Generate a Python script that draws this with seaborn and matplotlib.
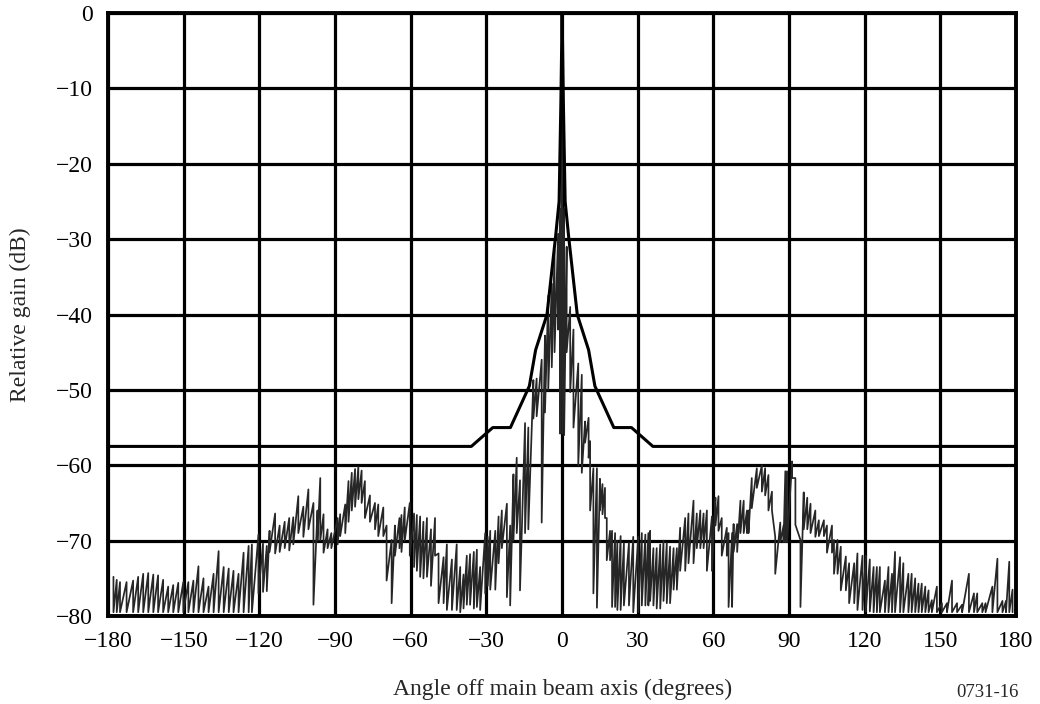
import numpy as np
import pandas as pd
import matplotlib
matplotlib.use("Agg")
import matplotlib.pyplot as plt
import seaborn as sns

# Reference envelope (dB relative to main-beam gain)
env_angle = [-180, -36, -27.5, -20.5, -13, -10.5, -6, -2.6, -1.2, -0.5, 0,
             0.5, 1.2, 2.6, 6, 10.5, 13, 20.5, 27.5, 36, 180]
env_gain = [-57.5, -57.5, -55, -55, -49.5, -44.7, -40, -29.7, -25, -12, 0,
            -12, -25, -29.7, -40, -44.7, -49.5, -55, -55, -57.5, -57.5]

# Measured pattern: for each sampled angle, the upper and lower level of the trace
meas_angle = [
    -177.9, -176.6, -175.3, -172.7, -170.1, -168.1, -166.1, -164.1, -162.1, -160.2,
    -158.2, -156.2, -154.2, -152.2, -150.2, -148.2, -146.2, -144.2, -142.2, -140.2,
    -138.2, -136.2, -134.2, -132.2, -130.3, -128.3, -126.3, -124.3, -123.0,
    -120.4, -118.6, -117.1, -116.0, -113.8, -112.0, -110.0, -108.2, -106.6, -104.6,
    -102.6, -100.6, -98.6, -97.0, -95.9, -94.6, -93.0, -91.5, -89.0, -88.0,
    -86.0, -84.7, -83.4, -82.1, -80.8, -79.5, -78.2, -76.2, -74.2, -72.9,
    -70.9, -69.6, -67.6, -66.3, -64.5, -63.7, -62.4, -60.4,
    -58.7, -57.6, -56.3, -55.0, -53.6, -52.0, -50.4, -49.0, -47.0, -45.7,
    -43.7, -41.8, -40.4, -39.1, -37.8, -36.5, -35.0, -33.8, -32.5, -30.5,
    -29.5, -28.5, -26.5, -25.2, -23.9, -21.9, -20.6, -19.3, -18.0, -16.7,
    -14.7, -13.4, -11.4, -10.1, -8.1, -6.8, -5.5, -4.1, -3.0, -1.6,
    -0.8, 0.0, 0.8, 1.8, 3.2, 4.5, 6.4, 7.8, 9.1, 10.5,
    11.1, 12.4, 13.8, 15.0, 16.0, 17.0, 17.7, 19.0, 19.8, 21.0,
    21.9, 23.2, 24.5, 26.5, 28.2, 30.2, 31.6, 33.0, 34.2, 34.9,
    36.2, 37.5, 38.9, 40.2, 41.5, 42.8, 44.2, 45.5, 46.8, 48.8,
    50.1, 52.1, 53.4, 54.8, 56.1, 57.4, 59.4, 60.8, 62.0, 63.3,
    65.3, 66.0, 67.4, 68.0, 69.4, 70.7, 72.0, 73.3, 73.9, 75.2,
    77.2, 79.2, 80.5, 81.8, 83.2, 84.5, 86.5, 87.8, 88.5, 89.2,
    91.2, 92.5, 94.5, 95.8, 97.2, 98.5, 100.4, 101.8, 103.8, 105.0,
    107.0, 107.8, 109.2, 110.5, 112.5, 113.8, 115.8, 117.1, 119.1, 120.4,
    122.0, 123.5, 124.8, 126.0, 128.0, 129.4, 130.8, 132.0, 134.0, 135.3,
    137.3, 138.6, 140.0, 141.3, 142.6, 144.0, 145.3, 146.6, 148.6, 150.6,
    152.6, 154.6, 156.6, 158.6, 161.3, 163.3, 164.6, 166.6, 167.9, 170.6,
    172.6, 174.6, 176.0, 177.3, 178.6,
]
meas_top = [
    -74.8, -75.2, -75.5, -75.5, -75.3, -74.8, -74.4, -74.3, -74.5, -74.6,
    -75.2, -76.1, -75.9, -75.6, -75.5, -75.5, -75.3, -73.4, -75.0, -76.1,
    -74.4, -71.4, -73.5, -73.7, -74.0, -74.4, -71.6, -70.7, -70.5,
    -69.2, -70.4, -70.7, -68.7, -66.4, -68.0, -67.5, -67.0, -66.9, -64.1,
    -65.5, -63.2, -65.0, -66.0, -61.7, -66.5, -68.5, -69.0, -67.0, -66.5,
    -65.2, -62.1, -61.0, -60.5, -60.2, -60.7, -62.1, -64.0, -65.0, -65.2,
    -65.6, -68.0, -69.9, -68.0, -67.0, -66.6, -65.6, -65.0,
    -66.4, -66.6, -66.8, -67.5, -67.0, -68.5, -67.0, -71.7, -72.2, -70.5,
    -72.5, -70.5, -73.5, -74.5, -72.0, -71.8, -71.5, -71.2, -73.5, -69.0,
    -69.5, -68.7, -68.7, -66.8, -66.0, -65.1, -68.0, -61.2, -59.0, -62.0,
    -54.4, -55.0, -48.7, -48.5, -46.0, -42.8, -37.5, -35.9, -31.5, -29.3,
    -26.0, 0.0, -26.0, -31.0, -39.0, -42.0, -46.5, -48.0, -54.2, -53.7,
    -56.8, -60.4, -60.4, -61.8, -62.5, -63.0, -67.0, -68.7, -68.7, -69.0,
    -70.0, -69.4, -70.3, -70.3, -69.5, -69.5, -69.0, -69.2, -69.0, -68.7,
    -71.0, -71.0, -70.5, -70.0, -70.3, -70.8, -71.0, -71.0, -68.3, -67.0,
    -66.4, -64.7, -66.4, -66.0, -66.4, -66.0, -66.8, -64.3, -64.1, -67.0,
    -68.3, -69.0, -69.0, -67.8, -67.8, -64.7, -64.7, -66.0, -66.0, -61.7,
    -60.4, -60.0, -60.4, -61.3, -63.5, -69.5, -67.6, -68.0, -60.8, -60.8,
    -59.5, -61.7, -69.9, -63.6, -64.3, -65.1, -66.0, -67.3, -67.3, -68.0,
    -68.0, -69.9, -69.9, -70.8, -72.1, -73.0, -73.0, -71.7, -72.0, -72.0,
    -72.5, -73.5, -73.5, -73.5, -75.3, -73.5, -74.4, -71.5, -72.2, -73.0,
    -74.4, -74.4, -75.0, -75.7, -75.7, -76.1, -76.6, -77.9, -76.1, -78.3,
    -78.3, -75.3, -78.3, -78.5, -74.4, -77.0, -77.0, -78.3, -78.3, -76.1,
    -72.4, -78.0, -78.0, -72.8, -76.5,
]
meas_bottom = [
    -79.5, -79.5, -79.5, -79.5, -79.5, -79.5, -79.5, -79.5, -79.5, -79.5,
    -79.5, -79.5, -79.5, -79.5, -79.5, -79.5, -79.5, -79.5, -79.5, -79.5,
    -79.5, -79.5, -79.5, -79.5, -79.5, -79.5, -79.5, -79.5, -79.5,
    -77.0, -76.8, -76.7, -71.5, -71.7, -71.5, -71.0, -71.3, -70.5, -69.0,
    -69.5, -68.5, -78.5, -70.0, -70.0, -71.6, -71.0, -71.0, -70.5, -69.4,
    -69.0, -67.5, -66.0, -65.5, -64.5, -65.0, -67.0, -67.5, -68.5, -69.4,
    -69.4, -75.3, -78.3, -72.0, -71.0, -71.5, -70.0, -72.0,
    -73.5, -74.0, -74.8, -75.0, -74.8, -76.0, -72.0, -78.3, -78.3, -79.2,
    -79.2, -79.2, -79.5, -79.0, -78.5, -78.5, -79.0, -78.8, -79.2, -77.0,
    -76.0, -76.5, -76.5, -73.0, -71.0, -77.5, -78.6, -70.0, -69.0, -76.6,
    -69.0, -68.5, -53.8, -53.5, -67.6, -53.0, -50.0, -47.0, -45.0, -42.0,
    -55.8, -55.8, -56.0, -45.0, -50.3, -55.0, -60.0, -61.0, -57.0, -59.0,
    -66.0, -77.0, -78.9, -66.0, -66.5, -67.0, -72.6, -72.6, -78.8, -78.8,
    -79.2, -79.2, -78.6, -78.6, -79.5, -79.5, -78.6, -78.6, -78.6, -78.0,
    -78.6, -79.0, -79.0, -78.0, -78.3, -78.3, -76.5, -76.5, -74.0, -74.0,
    -73.0, -73.0, -71.0, -71.0, -71.0, -74.0, -74.0, -68.0, -68.7, -72.0,
    -72.0, -78.8, -78.8, -71.5, -71.5, -69.0, -69.0, -69.0, -69.0, -65.7,
    -63.0, -63.5, -64.0, -66.0, -66.0, -74.4, -70.2, -70.2, -70.2, -70.2,
    -61.7, -67.9, -78.8, -68.5, -68.5, -69.0, -69.5, -69.4, -69.4, -71.6,
    -71.6, -74.4, -74.4, -76.6, -76.6, -78.3, -78.3, -79.2, -79.2, -79.4,
    -79.4, -79.5, -79.5, -79.5, -79.5, -79.5, -79.5, -79.5, -79.5, -79.5,
    -79.5, -79.5, -79.5, -79.5, -79.5, -79.5, -79.5, -79.5, -79.5, -79.5,
    -79.5, -79.5, -79.5, -79.5, -79.5, -79.5, -79.5, -79.5, -79.5, -79.5,
    -79.5, -79.5, -79.5, -79.5, -79.5,
]

x_ticks = [-180, -150, -120, -90, -60, -30, 0, 30, 60, 90, 120, 150, 180]
y_ticks = [0, -10, -20, -30, -40, -50, -60, -70, -80]

# Trace the measured pattern as a sawtooth pen stroke: peak, trough, next peak...
trace_x, trace_y = [], []
for a, t, b in zip(meas_angle, meas_top, meas_bottom):
    trace_x += [a, a]
    trace_y += [t, b]
trace = pd.DataFrame({"angle": trace_x, "gain": trace_y})
envelope = pd.DataFrame({"angle": env_angle, "gain": env_gain})

sns.set_style("white")
plt.rcParams["font.family"] = ["Liberation Serif", "DejaVu Serif"]

fig = plt.figure(figsize=(10.4, 7.04), dpi=100)
ax = fig.add_axes([0.104, 0.125, 0.873, 0.8565])

sns.lineplot(data=trace, x="angle", y="gain", sort=False, estimator=None,
             color="#262626", lw=1.25, ax=ax, zorder=3)
sns.lineplot(data=envelope, x="angle", y="gain", sort=False, estimator=None,
             color="black", lw=2.2, ax=ax, zorder=4)

ax.set_xlim(-180, 180)
ax.set_ylim(-80, 0)
ax.set_xticks(x_ticks)
ax.set_yticks(y_ticks)
ax.set_xticklabels([f"{v:d}".replace("-", "\u2212") for v in x_ticks])
ax.set_yticklabels([f"{v:d}".replace("-", "\u2212") for v in y_ticks])
ax.tick_params(axis="both", length=0, labelsize=17, colors="black")
ax.tick_params(axis="x", pad=11)
ax.tick_params(axis="y", pad=11)
ax.grid(True, color="black", lw=2.3, zorder=1)
ax.set_axisbelow(True)
for s in ax.spines.values():
    s.set_color("black")
    s.set_linewidth(2.8)
    s.set_zorder(5)

ax.set_xlabel("Angle off main beam axis (degrees)", fontsize=17, labelpad=19)
ax.set_ylabel("Relative gain (dB)", fontsize=17, labelpad=18)
fig.text(0.979, 0.004, "0731-16", fontsize=13.5, ha="right", va="bottom")

fig.savefig("out.png", dpi=100)
